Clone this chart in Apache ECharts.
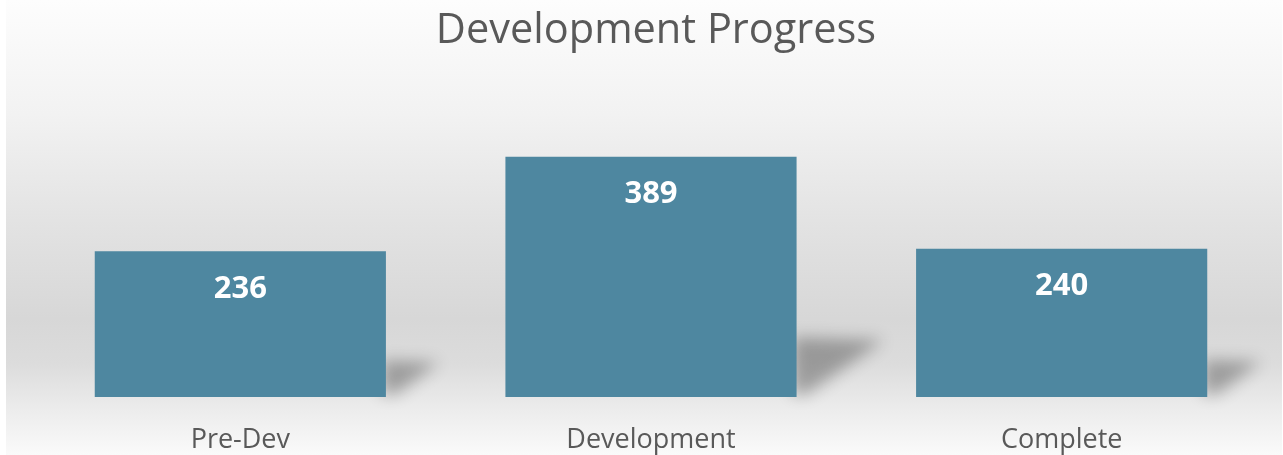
<!DOCTYPE html>
<html>
<head>
<meta charset="utf-8">
<script src="https://cdn.jsdelivr.net/npm/echarts@6/dist/echarts.min.js"></script>
<style>
  html, body { margin: 0; padding: 0; background: #fff; }
  #main { width: 1283px; height: 455px; }
</style>
</head>
<body>
<div id="main"></div>
<script>
var categories = ['Pre-Dev', 'Development', 'Complete'];
var values = [236, 389, 240];

var chart = echarts.init(document.getElementById('main'));

// soft perspective shadow behind each bar, built from the bar's own coords
function renderShadow(params, api) {
	var i = api.value(0);
	var v = api.value(1);
	var base = api.coord([i, 0]);
	var top = api.coord([i, v]);
	var band = api.size([1, 0])[0];
	var xr = base[0] + band * 0.709 / 2;
	var h = (base[1] - top[1]) * 0.25;
	var off = 2000;
	return {
		type: 'polygon',
		shape: {
			points: [
				[xr - 4, base[1] - 3 + off],
				[xr - 4, base[1] - h + off],
				[xr + h * 1.45, base[1] - h * 0.95 + off],
				[xr + 10, base[1] - 3 + off]
			]
		},
		style: {
			fill: '#000',
			shadowBlur: 16,
			shadowColor: 'rgba(0,0,0,0.3)',
			shadowOffsetY: -off
		}
	};
}

var option = {
	backgroundColor: new echarts.graphic.LinearGradient(0, 0, 0, 1, [
		{ offset: 0, color: '#fdfdfd' },
		{ offset: 0.25, color: '#f2f2f2' },
		{ offset: 0.5, color: '#e2e2e2' },
		{ offset: 0.7, color: '#d7d7d7' },
		{ offset: 0.8, color: '#dcdcdc' },
		{ offset: 0.9, color: '#ececec' },
		{ offset: 1, color: '#fafafa' }
	]),
	animation: false,
	graphic: [{
		type: 'rect',
		left: 0,
		top: 0,
		shape: { width: 6, height: 455 },
		style: { fill: '#ffffff' },
		silent: true
	}, {
		type: 'rect',
		right: 0,
		top: 0,
		shape: { width: 1, height: 455 },
		style: { fill: '#ffffff' },
		silent: true
	}],
	title: {
		text: 'Development Progress',
		left: 651,
		textAlign: 'center',
		top: 5,
		textStyle: {
			fontFamily: 'Open Sans',
			fontWeight: 'normal',
			fontSize: 41.5,
			color: '#595959'
		}
	},
	grid: {
		left: 35,
		right: 16,
		top: 150,
		bottom: 58
	},
	xAxis: {
		type: 'category',
		data: categories,
		axisLine: { show: false },
		axisTick: { show: false },
		axisLabel: {
			fontFamily: 'Open Sans',
			fontSize: 27,
			color: '#595959',
			margin: 30
		}
	},
	yAxis: {
		type: 'value',
		min: 0,
		max: 400,
		show: false,
		splitLine: { show: false }
	},
	series: [{
		type: 'custom',
		z: 1,
		silent: true,
		renderItem: renderShadow,
		data: values.map(function(v, i) { return [i, v]; })
	}, {
		type: 'bar',
		z: 2,
		data: values,
		barWidth: '70.9%',
		itemStyle: {
			color: '#4e87a0'
		},
		label: {
			show: true,
			position: 'insideTop',
			distance: 22,
			fontFamily: 'Open Sans',
			fontWeight: 'bold',
			fontSize: 31,
			color: '#ffffff'
		}
	}]
};
chart.setOption(option);
</script>
</body>
</html>
